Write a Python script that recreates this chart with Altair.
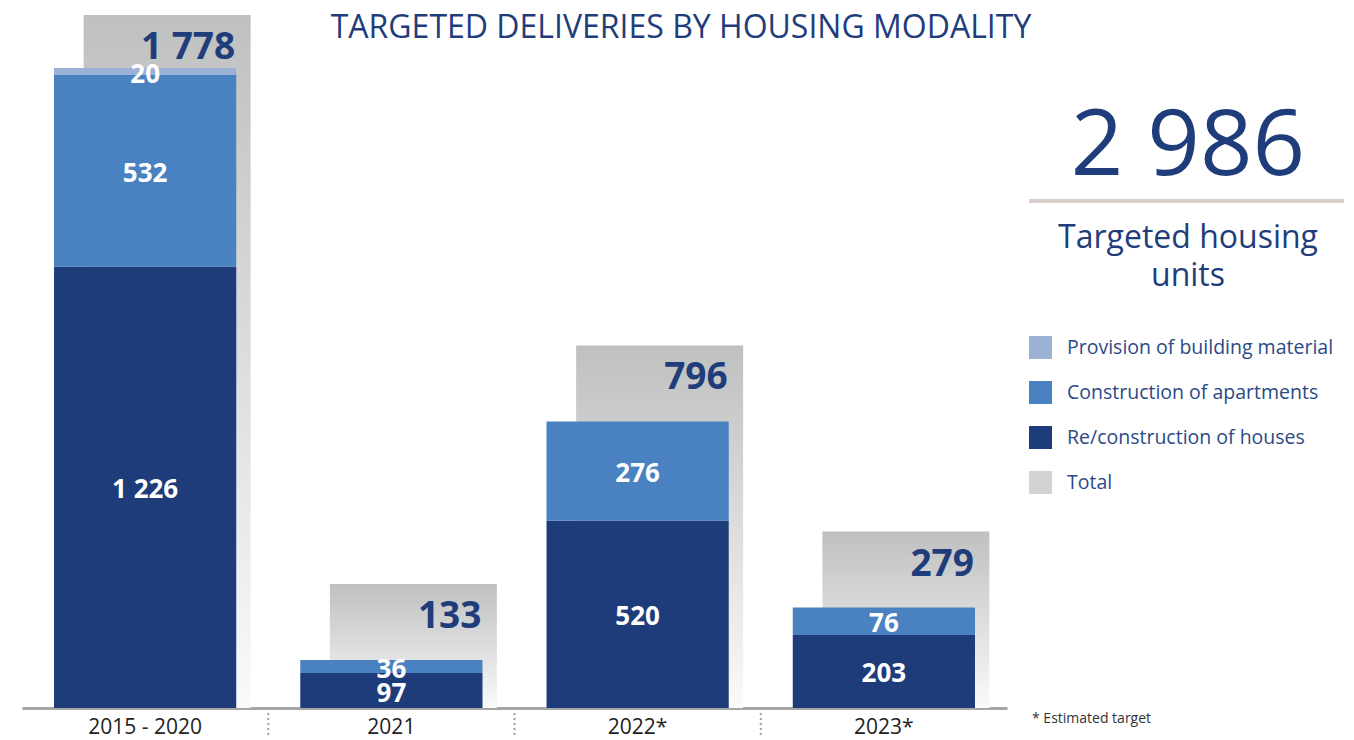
import altair as alt
import pandas as pd

# ---- data ----
periods = ["2015 - 2020", "2021", "2022*", "2023*"]
houses = [1226, 97, 520, 203]
apartments = [532, 36, 276, 76]
material = [20, 0, 0, 0]
totals = [1778, 133, 796, 279]
grand_total = ["2 986"]
modalities = ["Provision of building material", "Construction of apartments",
              "Re/construction of houses", "Total"]
colors = ["#9bb1d5", "#4a81c0", "#1f3c7a", "#d3d3d3"]

rows = []
for i, p in enumerate(periods):
    for order, (name, vals) in enumerate([(modalities[2], houses),
                                         (modalities[1], apartments),
                                         (modalities[0], material)]):
        if vals[i] > 0:
            rows.append({"period": p, "modality": name, "value": vals[i], "order": order})
seg_df = pd.DataFrame(rows)
tot_df = pd.DataFrame({"period": periods, "total": totals})
sep_df = pd.DataFrame({"period": periods[1:]})

FONT = "Open Sans"
NAVY = "#1f3d7b"

yscale = alt.Scale(domain=[0, 1925], nice=False, zero=True)
xscale = alt.Scale(paddingInner=0.26, paddingOuter=0.13)
xenc = alt.X("period:N", sort=periods, scale=xscale,
             axis=alt.Axis(title=None, labelFont=FONT, labelFontSize=21, labelColor="#222222",
                           domainColor="#a6a6a6", domainWidth=3, ticks=False,
                           labelPadding=8, labelAngle=0, grid=False))

gradient = alt.Gradient(gradient="linear",
                        stops=[alt.GradientStop(color="#bfc0c0", offset=0),
                               alt.GradientStop(color="#fafafa", offset=1)],
                        x1=0, x2=0, y1=0, y2=1)

# gray "total" bars: raised a fixed distance above the stacked bar, kept inside the plot
gray = alt.Chart(tot_df).mark_bar(fill=gradient, width=167, xOffset=22).encode(
    x=xenc,
    y=alt.value({"expr": "max(scale('y', datum.total) - 76, 0)"}),
    y2=alt.value({"expr": "scale('y', 0)"}))

stacked_base = alt.Chart(seg_df).transform_stack(
    stack="value", groupby=["period"], sort=[alt.SortField("order")], as_=["v0", "v1"]
).transform_calculate(
    mid="(datum.v0 + datum.v1) / 2",
    label="replace(format(datum.value, ','), ',', ' ')"
)

bars = stacked_base.mark_bar().encode(
    x=xenc,
    y=alt.Y("v1:Q", scale=yscale, axis=None),
    y2="v0:Q",
    color=alt.Color("modality:N",
                    scale=alt.Scale(domain=modalities, range=colors),
                    legend=alt.Legend(orient="none", legendX=1007, legendY=321, title=None,
                                      symbolType="square", symbolSize=529,
                                      symbolStrokeWidth=0, symbolOpacity=1,
                                      labelFont=FONT, labelFontSize=19.5, labelColor="#2b4a86",
                                      labelOffset=15, labelLimit=0, rowPadding=22, padding=0)),
)

seg_labels = stacked_base.mark_text(font=FONT, fontSize=26, fontWeight="bold",
                                    color="white", baseline="middle", dy=3).encode(
    x=xenc, y=alt.Y("mid:Q", scale=yscale, axis=None), text="label:N")

tot_labels = alt.Chart(tot_df).transform_calculate(
    label="replace(format(datum.total, ','), ',', ' ')"
).mark_text(font=FONT, fontSize=37, fontWeight="bold", color=NAVY, align="right",
            baseline="middle", xOffset=90).encode(
    x=xenc,
    y=alt.value({"expr": "max(scale('y', datum.total) - 76, 0) + 33"}),
    text="label:N")

separators = alt.Chart(sep_df).mark_rule(color="#a0a0a0", strokeWidth=2,
                                         strokeDash=[2, 3], xOffset=-32).encode(
    x=alt.X("period:N", sort=periods, bandPosition=0, scale=xscale),
    y=alt.value(698), y2=alt.value(723))

one = pd.DataFrame({"t": ["x"]})

title = alt.Chart(pd.DataFrame({"t": ["TARGETED DELIVERIES BY HOUSING MODALITY"]})).mark_text(
    font=FONT, fontSize=32, color=NAVY, align="center", baseline="middle").encode(
    text="t:N", x=alt.value(659), y=alt.value(13))

big = alt.Chart(pd.DataFrame({"t": grand_total})).mark_text(
    font=FONT, fontSize=92, color=NAVY, align="center", baseline="alphabetic").encode(
    text="t:N", x=alt.value(1166), y=alt.value(160))

hline = alt.Chart(one).mark_rule(color="#dacfcb", strokeWidth=4).encode(
    x=alt.value(1007), x2=alt.value(1322), y=alt.value(186))

sub = alt.Chart(pd.DataFrame({"t": ["Targeted housing\nunits"]})).mark_text(
    font=FONT, fontSize=32, color=NAVY, align="center", baseline="alphabetic",
    lineBreak="\n", lineHeight=38).encode(
    text="t:N", x=alt.value(1166), y=alt.value(233))

foot = alt.Chart(pd.DataFrame({"t": ["* Estimated target"]})).mark_text(
    font=FONT, fontSize=14, color="#333333", align="left", baseline="middle").encode(
    text="t:N", x=alt.value(1010), y=alt.value(704))

chart = alt.layer(gray, bars, seg_labels, tot_labels, separators,
                  title, big, hline, sub, foot).properties(
    width=985, height=693,
    autosize=alt.AutoSizeParams(type="none"),
    padding={"left": 14, "top": 7, "right": 339, "bottom": 30},
).configure_view(stroke=None)

chart.save("out.html", embed_options={"renderer": "svg", "actions": False})
